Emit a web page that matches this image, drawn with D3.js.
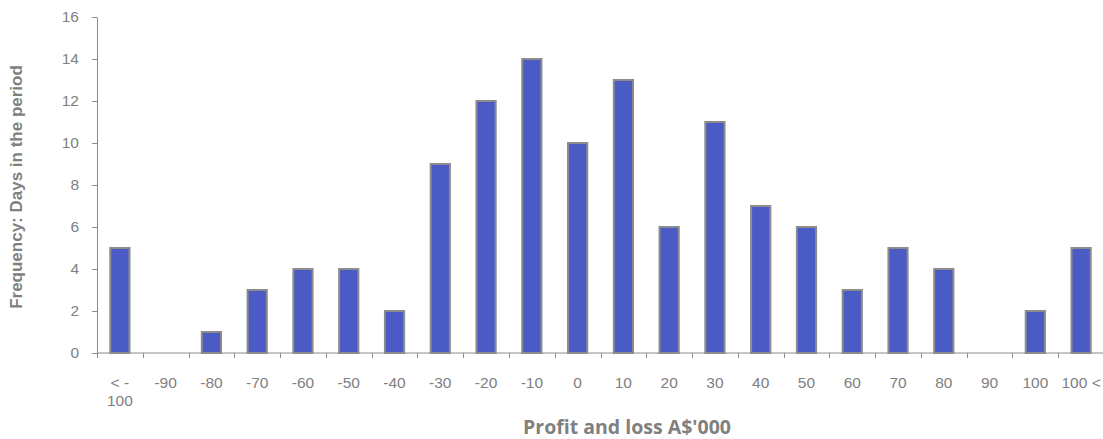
<!DOCTYPE html>
<html>
<head>
<meta charset="utf-8">
<script src="https://cdn.jsdelivr.net/npm/d3@7"></script>
<style>
  body { margin: 0; background: #fff; }
  svg { display: block; }
</style>
</head>
<body>
<div id="chart"></div>
<script>
// Categorías (rangos de P&L) y frecuencias
const categories = ['< -100', '-90', '-80', '-70', '-60', '-50', '-40', '-30', '-20', '-10', '0',
  '10', '20', '30', '40', '50', '60', '70', '80', '90', '100', '100 <'];
const frequencies = [5, 0, 1, 3, 4, 4, 2, 9, 12, 14, 10, 13, 6, 11, 7, 6, 3, 5, 4, 0, 2, 5];
const yTicks = [0, 2, 4, 6, 8, 10, 12, 14, 16];

const W = 1103, H = 439;
const margin = { top: 17, right: -1, bottom: 86, left: 97 };
const width = W - margin.left - margin.right;
const height = H - margin.top - margin.bottom;
const font = '"Liberation Sans", Arial, sans-serif';

const svg = d3.select('#chart').append('svg')
  .attr('width', W)
  .attr('height', H);

const g = svg.append('g')
  .attr('transform', `translate(${margin.left},${margin.top})`);

const x = d3.scaleBand()
  .domain(categories)
  .range([0, width])
  .paddingInner(0.58)
  .paddingOuter(0.29);

const y = d3.scaleLinear()
  .domain([0, 16])
  .range([height, 0]);

// Barras
g.selectAll('.bar')
  .data(categories)
  .enter()
  .append('rect')
  .attr('class', 'bar')
  .attr('x', d => x(d))
  .attr('width', x.bandwidth())
  .attr('y', (d, i) => y(frequencies[i]))
  .attr('height', (d, i) => height - y(frequencies[i]))
  .attr('fill', '#4a5bc6')
  .attr('stroke', '#8c8c8c')
  .attr('stroke-width', 2);

// Eje Y
const yAxis = g.append('g')
  .call(d3.axisLeft(y).tickValues(yTicks).tickSize(5).tickSizeOuter(0).tickPadding(13));
yAxis.select('.domain').attr('stroke', '#8c8c8c');
yAxis.selectAll('.tick line').attr('stroke', '#8c8c8c');
yAxis.selectAll('text')
  .style('font-family', font)
  .style('font-size', '15.5px')
  .attr('fill', '#808080');

// Eje X: ticks en los límites de cada banda
const step = x.step();
const xAxis = g.append('g').attr('transform', `translate(0,${height})`);
xAxis.append('line')
  .attr('x1', 0).attr('x2', width)
  .attr('stroke', '#8c8c8c');
xAxis.selectAll('.xtick')
  .data(d3.range(categories.length + 1))
  .enter()
  .append('line')
  .attr('x1', i => Math.round(i * step) + 0.5)
  .attr('x2', i => Math.round(i * step) + 0.5)
  .attr('y1', 0).attr('y2', 5)
  .attr('stroke', '#8c8c8c');

const labels = xAxis.selectAll('.xlabel')
  .data(categories)
  .enter()
  .append('text')
  .attr('text-anchor', 'middle')
  .attr('x', d => x(d) + x.bandwidth() / 2)
  .attr('y', 35)
  .style('font-family', font)
  .style('font-size', '15.5px')
  .attr('fill', '#808080');

labels.each(function(d) {
  const t = d3.select(this);
  const lines = d === '< -100' ? ['< -', '100'] : [d];
  lines.forEach((l, k) => {
    t.append('tspan')
      .attr('x', x(d) + x.bandwidth() / 2)
      .attr('dy', k === 0 ? 0 : 18)
      .text(l);
  });
});

// Títulos de los ejes
svg.append('text')
  .attr('x', 627)
  .attr('y', 434)
  .attr('text-anchor', 'middle')
  .style('font-family', '"Open Sans", sans-serif')
  .style('font-weight', 'bold')
  .style('font-size', '19.5px')
  .attr('fill', '#808080')
  .text("Profit and loss A$'000");

svg.append('text')
  .attr('transform', 'translate(22,187) rotate(-90)')
  .attr('text-anchor', 'middle')
  .style('font-family', font)
  .style('font-weight', 'bold')
  .style('font-size', '17px')
  .attr('fill', '#808080')
  .text('Frequency: Days in the period');
</script>
</body>
</html>
